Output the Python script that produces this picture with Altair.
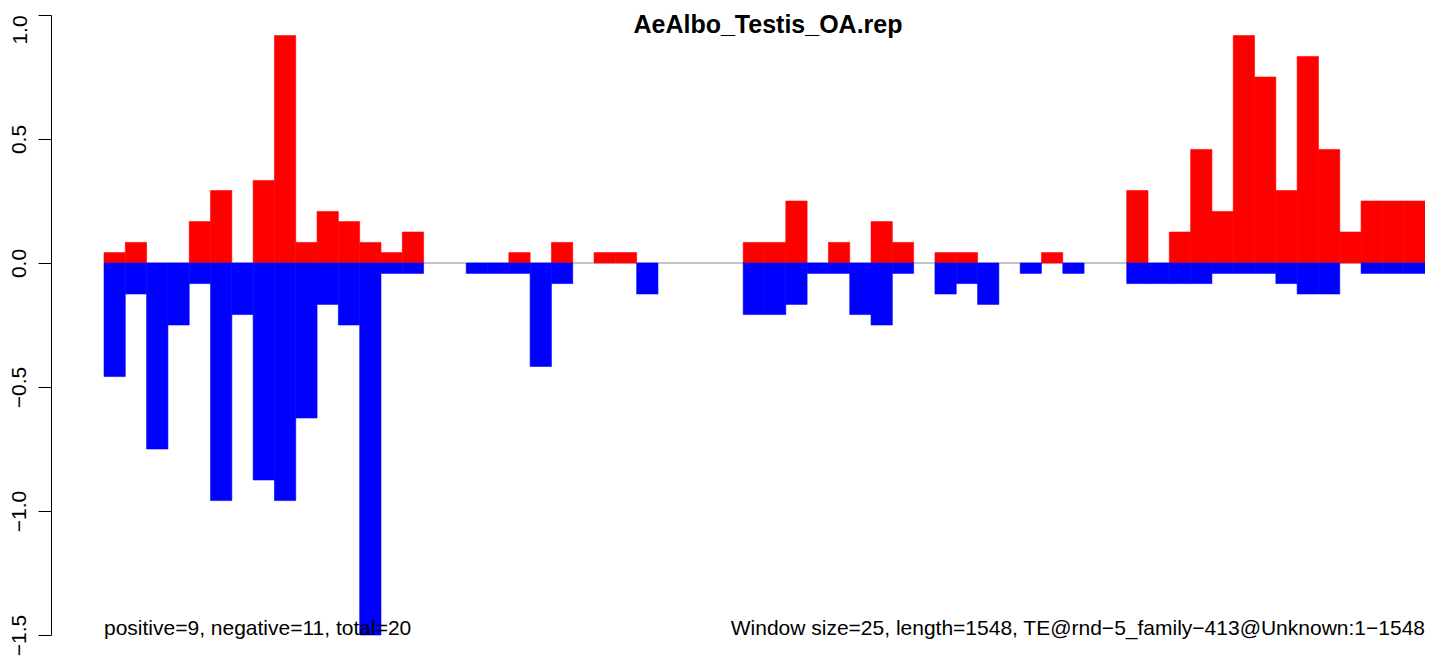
import altair as alt
import pandas as pd

# Window index (62 windows of 25 bp over length 1548)
windows = list(range(62))

# Positive-strand values (red bars, above zero)
pos_values = [
    0.042, 0.083, 0.0, 0.0, 0.167, 0.292, 0.0, 0.333, 0.917, 0.083,
    0.208, 0.167, 0.083, 0.042, 0.125, 0.0, 0.0, 0.0, 0.0, 0.042,
    0.0, 0.083, 0.0, 0.042, 0.042, 0.0, 0.0, 0.0, 0.0, 0.0,
    0.083, 0.083, 0.25, 0.0, 0.083, 0.0, 0.167, 0.083, 0.0, 0.042,
    0.042, 0.0, 0.0, 0.0, 0.042, 0.0, 0.0, 0.0, 0.292, 0.0,
    0.125, 0.458, 0.208, 0.917, 0.75, 0.292, 0.833, 0.458, 0.125, 0.25,
    0.25, 0.25,
]

# Negative-strand values (blue bars, below zero)
neg_values = [
    -0.458, -0.125, -0.75, -0.25, -0.083, -0.958, -0.208, -0.875, -0.958, -0.625,
    -0.167, -0.25, -1.5, -0.042, -0.042, 0.0, 0.0, -0.042, -0.042, -0.042,
    -0.417, -0.083, 0.0, 0.0, 0.0, -0.125, 0.0, 0.0, 0.0, 0.0,
    -0.208, -0.208, -0.167, -0.042, -0.042, -0.208, -0.25, -0.042, 0.0, -0.125,
    -0.083, -0.167, 0.0, -0.042, 0.0, -0.042, 0.0, 0.0, -0.083, -0.083,
    -0.083, -0.083, -0.042, -0.042, -0.042, -0.083, -0.125, -0.125, 0.0, -0.042,
    -0.042, -0.042,
]

y_ticks = [-1.5, -1.0, -0.5, 0.0, 0.5, 1.0]
top_tick_label = "1.0"

title_text = "AeAlbo_Testis_OA.rep"
left_note = "positive=9, negative=11, total=20"
right_note = "Window size=25, length=1548, TE@rnd\u22125_family\u2212413@Unknown:1\u22121548"

FONT = "Liberation Sans"
W = 1321
H = 620

df = pd.DataFrame({
    "start": windows,
    "end": [w + 1 for w in windows],
    "pos": pos_values,
    "neg": neg_values,
    "zero": [0.0] * len(windows),
})

xscale = alt.Scale(domain=[0, len(windows)], nice=False, zero=False)
yscale = alt.Scale(domain=[-1.5, 1.0], nice=False, zero=False)

base = alt.Chart(df)

zero_line = alt.Chart(pd.DataFrame({"a": [0], "b": [len(windows)], "y": [0.0]})).mark_rule(
    color="#8a8a8a", strokeWidth=1
).encode(
    x=alt.X("a:Q", scale=xscale, axis=None),
    x2="b:Q",
    y=alt.Y("y:Q", scale=yscale),
)

red = base.transform_filter("datum.pos > 0").mark_rect(
    color="#ff0000", stroke="#ff0000", strokeWidth=0.6
).encode(
    x=alt.X("start:Q", scale=xscale, axis=None),
    x2="end:Q",
    y=alt.Y(
        "pos:Q",
        scale=yscale,
        axis=alt.Axis(
            values=y_ticks,
            format=".1f",
            labelExpr="datum.value >= 1 ? '' : datum.label",
            title=None,
            grid=False,
            offset=53,
            tickSize=13,
            tickColor="black",
            domainColor="black",
            tickWidth=1,
            domainWidth=1,
            labelFont=FONT,
            labelFontSize=21,
            labelColor="black",
            labelAngle=270,
            labelAlign="center",
            labelBaseline="alphabetic",
            labelPadding=13,
            labelOverlap=False,
            labelFlush=False,
        ),
    ),
    y2="zero:Q",
)

blue = base.transform_filter("datum.neg < 0").mark_rect(
    color="#0000ff", stroke="#0000ff", strokeWidth=0.6
).encode(
    x=alt.X("start:Q", scale=xscale, axis=None),
    x2="end:Q",
    y=alt.Y("neg:Q", scale=yscale),
    y2="zero:Q",
)

# top tick label, nudged down so it stays inside the page
top_label = alt.Chart(pd.DataFrame({"t": [top_tick_label]})).mark_text(
    font=FONT, fontSize=21, angle=270, align="center", baseline="alphabetic", color="black"
).encode(x=alt.value(-77), y=alt.value(15), text="t:N")

title = alt.Chart(pd.DataFrame({"t": [title_text]})).mark_text(
    font=FONT, fontSize=25, fontWeight="bold", align="center", baseline="alphabetic", color="black"
).encode(x=alt.value(768 - 104), y=alt.value(18), text="t:N")

left = alt.Chart(pd.DataFrame({"t": [left_note]})).mark_text(
    font=FONT, fontSize=21, align="left", baseline="alphabetic", color="black"
).encode(x=alt.value(0), y=alt.value(620), text="t:N")

right = alt.Chart(pd.DataFrame({"t": [right_note]})).mark_text(
    font=FONT, fontSize=21, align="right", baseline="alphabetic", color="black"
).encode(x=alt.value(W), y=alt.value(620), text="t:N")

chart = alt.layer(zero_line, red, blue, top_label, title, left, right).properties(
    width=W,
    height=H,
    autosize=alt.AutoSizeParams(type="none"),
    padding={"left": 96, "top": 7, "right": 0, "bottom": 21},
    background="white",
).configure_view(stroke=None)

chart.save("out.html", embed_options={"renderer": "svg", "actions": False})
